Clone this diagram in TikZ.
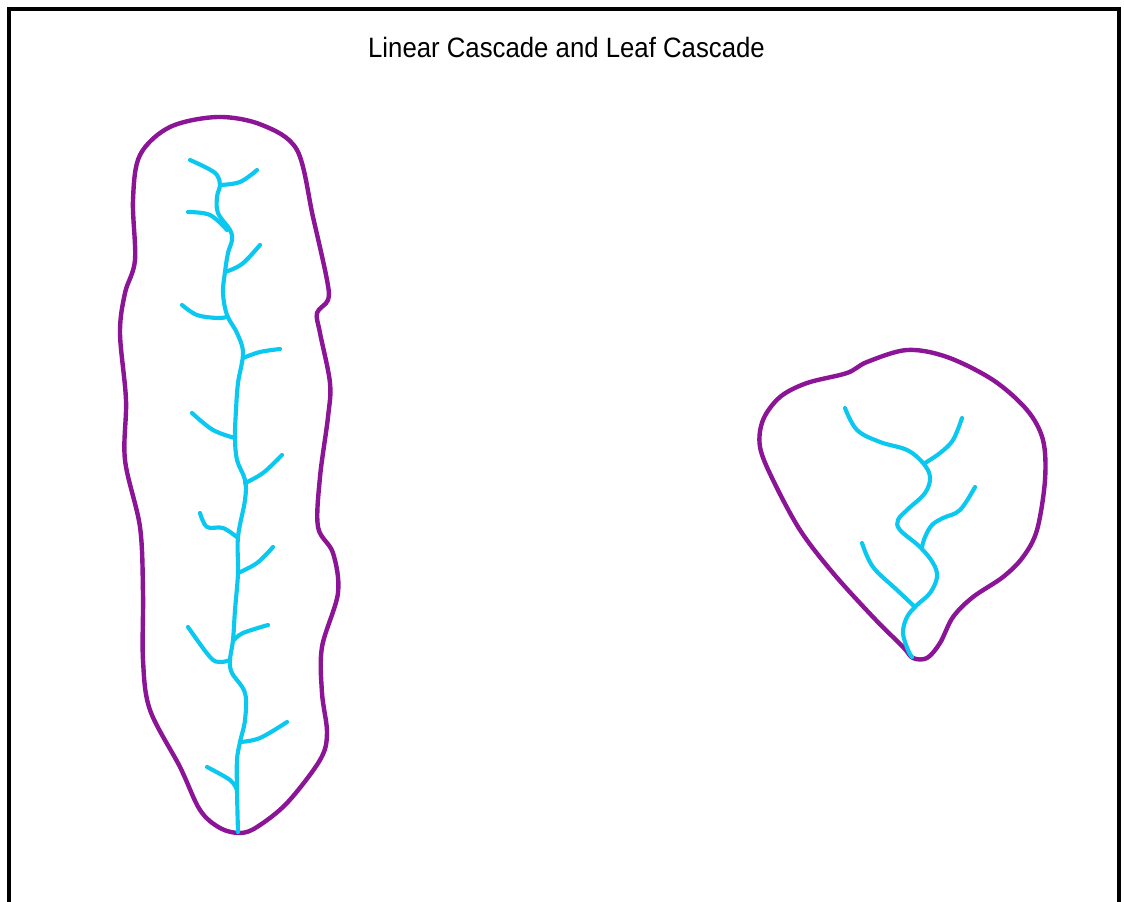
\documentclass[tikz,border=0pt]{standalone}
\usepackage{fontspec}
\setmainfont{Liberation Sans}
\definecolor{leafpurple}{RGB}{140,20,150}
\definecolor{veincyan}{RGB}{10,200,240}
\begin{document}
\begin{tikzpicture}[x=0.75pt,y=-0.75pt,
  outline/.style={draw=leafpurple,line width=3.3pt,line join=round},
  vein/.style={draw=veincyan,line width=3.1pt,line cap=round,line join=round},
  frame/.style={draw=black,line width=3pt},
  title/.style={font=\fontsize{21}{25}\selectfont,anchor=base,xscale=0.92,inner sep=0pt}]
\useasboundingbox (0,0) rectangle (1124,902);
\fill[white] (0,0) rectangle (1124,902);
\draw[frame] (9,9) rectangle (1119,910);
\node[title] (ttl) at (566.5,58) {Linear Cascade and Leaf Cascade};

% ---- linear cascade outline
\draw[outline] plot[smooth cycle,tension=0.55] coordinates {
 (218,117) (262,125) (297,150) (313,217) (327,280) (328,300) (317,313)
 (320,333) (330,383) (328,417) (320,477) (318,527) (333,553) (338,593)
 (322,647) (322,693) (327,733) (320,760) (287,803) (257,827) (240,833)
 (220,828) (200,810) (180,767) (150,710) (143,660) (143,593) (140,527)
 (125,460) (126,400) (120,333) (125,293) (135,260) (133,200) (140,155) (170,127)};

% ---- linear cascade veins
\draw[vein] plot[smooth,tension=0.6] coordinates {
 (190,160) (207,168) (217,175) (220,185) (217,197) (218,213) (230,230)
 (232,240) (228,253) (225,272) (223,293) (227,315) (237,333) (243,353)
 (238,383) (236,410) (235,437) (237,460) (245,480) (245,500) (238,537)
 (238,573) (235,610) (233,640) (230,660) (232,673) (245,693) (245,720)
 (240,742) (237,760) (237,790) (238,832)};
\draw[vein] plot[smooth,tension=0.6] coordinates {(220,185) (240,182) (257,170)};
\draw[vein] plot[smooth,tension=0.6] coordinates {(188,212) (210,215) (227,230)};
\draw[vein] plot[smooth,tension=0.6] coordinates {(225,272) (242,264) (260,245)};
\draw[vein] plot[smooth,tension=0.6] coordinates {(182,305) (197,315) (217,318) (227,317)};
\draw[vein] plot[smooth,tension=0.6] coordinates {(243,358) (260,352) (280,349)};
\draw[vein] plot[smooth,tension=0.6] coordinates {(192,413) (213,430) (235,438)};
\draw[vein] plot[smooth,tension=0.6] coordinates {(245,483) (263,473) (282,455)};
\draw[vein] plot[smooth,tension=0.6] coordinates {(200,513) (207,527) (223,528) (238,538)};
\draw[vein] plot[smooth,tension=0.6] coordinates {(238,573) (257,563) (273,547)};
\draw[vein] plot[smooth,tension=0.6] coordinates {(234,640) (243,633) (268,625)};
\draw[vein] plot[smooth,tension=0.6] coordinates {(188,627) (210,657) (220,662) (230,660)};
\draw[vein] plot[smooth,tension=0.6] coordinates {(240,742) (260,738) (287,722)};
\draw[vein] plot[smooth,tension=0.6] coordinates {(207,767) (230,780) (237,790)};

% ---- leaf cascade outline
\draw[outline] plot[smooth cycle,tension=0.55] coordinates {
 (867,362) (907,350) (947,357) (993,380) (1027,410) (1043,440) (1045,480)
 (1037,530) (1023,557) (1003,577) (973,597) (953,617) (940,643) (927,658)
 (913,658) (903,647) (873,617) (833,573) (800,530) (773,480) (760,447)
 (763,420) (780,397) (807,383) (847,373)};

% ---- leaf cascade veins
\draw[vein] plot[smooth,tension=0.6] coordinates {
 (845,408) (857,430) (880,442) (907,450) (923,463) (930,477) (925,493)
 (907,510) (898,520) (900,530) (920,547) (933,563) (937,577) (930,593)
 (917,605) (907,617) (903,633) (908,650) (912,657)};
\draw[vein] plot[smooth,tension=0.6] coordinates {(962,418) (953,440) (940,453) (925,463)};
\draw[vein] plot[smooth,tension=0.6] coordinates {(975,487) (960,510) (943,518) (932,525) (925,537) (922,547)};
\draw[vein] plot[smooth,tension=0.6] coordinates {(862,543) (873,567) (897,590) (915,607)};
\end{tikzpicture}
\end{document}
